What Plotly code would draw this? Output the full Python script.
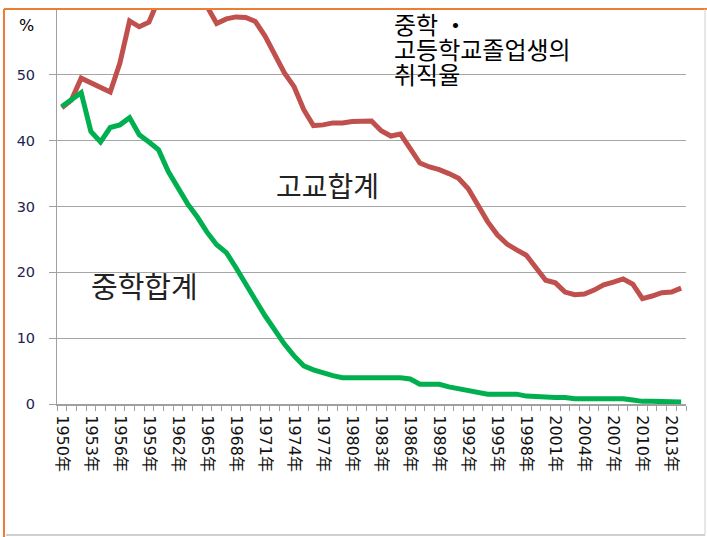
import plotly.graph_objects as go

years = list(range(1950, 2015))

high_school = [
    45.0, 46.2, 49.5, 48.8, 48.2, 47.4, 51.8, 58.2, 57.3, 58.0,
    61.5, 63.0, 64.0, 64.0, 63.0, 60.5, 57.8, 58.5, 58.8, 58.7,
    58.1, 55.9, 53.0, 50.3, 48.2, 44.7, 42.3, 42.4, 42.7, 42.7,
    42.9, 42.9, 43.0, 41.5, 40.7, 41.0, 38.9, 36.6, 36.0, 35.6,
    35.0, 34.3, 32.7, 30.2, 27.7, 25.7, 24.3, 23.4, 22.6, 20.7,
    18.8, 18.4, 17.0, 16.6, 16.7, 17.3, 18.1, 18.5, 19.0, 18.2,
    16.0, 16.4, 16.9, 17.0, 17.6,
]

middle_school = [
    45.2, 46.2, 47.3, 41.4, 39.8, 42.0, 42.4, 43.5, 40.9, 39.8,
    38.6, 35.3, 32.8, 30.4, 28.4, 26.1, 24.2, 23.0, 20.7, 18.4,
    15.8, 13.4, 11.2, 9.1, 7.3, 5.8, 5.2, 4.7, 4.3, 4.0,
    4.0, 4.0, 4.0, 4.0, 4.0, 4.0, 3.8, 3.0, 3.0, 3.0,
    2.6, 2.3, 2.0, 1.7, 1.5, 1.5, 1.5, 1.5, 1.2, 1.1,
    1.0, 1.0, 1.0, 0.8, 0.8, 0.8, 0.8, 0.8, 0.8, 0.6,
    0.4, 0.4, 0.4, 0.3, 0.3,
]

tick_years = years[::3]
tick_labels = [f"{y}年" for y in tick_years]
y_ticks = [0, 10, 20, 30, 40, 50]

series_names = ["고교합계", "중학합계"]
title_lines = ["중학 ・", "고등학교졸업생의", "취직율"]

W, H = 707, 537
L, R, T, B = 57, 21, 9, 133
pw = W - L - R
ph = H - T - B

def px(xp):
    return (xp - L) / pw

def py(yp):
    return (H - B - yp) / ph

fig = go.Figure()
fig.add_trace(go.Scatter(x=years, y=high_school, mode="lines",
                         line=dict(color="#C0504D", width=5), name=series_names[0],
                         showlegend=False))
fig.add_trace(go.Scatter(x=years, y=middle_school, mode="lines",
                         line=dict(color="#00B050", width=5), name=series_names[1],
                         showlegend=False))

font_lat = "DejaVu Sans, Noto Sans CJK JP, sans-serif"
font_kr = "Noto Sans CJK KR, sans-serif"

fig.update_layout(
    width=W, height=H,
    margin=dict(l=L, r=R, t=T, b=B, pad=0),
    paper_bgcolor="white", plot_bgcolor="white",
    xaxis=dict(
        range=[1949.5, 2014.5], tickmode="array", tickvals=tick_years,
        ticktext=tick_labels, tickangle=90, ticks="", ticklabelstandoff=6,
        tickfont=dict(family=font_lat, size=16, color="#111"),
        showgrid=False, showline=True, linecolor="#a0a0a0", linewidth=2,
        zeroline=False,
        minor=dict(ticks="outside", tick0=1949.5, dtick=1, ticklen=5,
                   tickcolor="#a0a0a0", tickwidth=1, showgrid=False),
    ),
    yaxis=dict(
        range=[0, 60], tickmode="array", tickvals=y_ticks,
        ticks="outside", ticklen=7, tickcolor="#a0a0a0", ticklabelstandoff=11,
        tickfont=dict(family=font_lat, size=14.5, color="#1c2450"),
        showgrid=True, gridcolor="#a6a6a6", gridwidth=1,
        showline=True, linecolor="#a0a0a0", linewidth=1, zeroline=False,
    ),
)

# title text lines
title_y = [24, 49, 73]
for txt, yy in zip(title_lines, title_y):
    fig.add_annotation(xref="paper", yref="paper", x=px(392), y=py(yy),
                       xanchor="left", yanchor="middle", text=txt, showarrow=False,
                       font=dict(family=font_kr, size=24, color="black"))

fig.add_annotation(xref="paper", yref="paper", x=px(274), y=py(185),
                   xanchor="left", yanchor="middle", text=series_names[0], showarrow=False,
                   font=dict(family=font_kr, size=28, color="#222"))
fig.add_annotation(xref="paper", yref="paper", x=px(89), y=py(285),
                   xanchor="left", yanchor="middle", text=series_names[1], showarrow=False,
                   font=dict(family=font_kr, size=29, color="#222"))
fig.add_annotation(xref="paper", yref="paper", x=px(27), y=py(25),
                   xanchor="center", yanchor="middle", text="%", showarrow=False,
                   font=dict(family=font_lat, size=16, color="black"))

# frame lines
fig.add_shape(type="line", xref="paper", yref="paper", x0=px(4), x1=px(707), y0=py(9), y1=py(9),
              line=dict(color="#ED7D31", width=2))
fig.add_shape(type="line", xref="paper", yref="paper", x0=px(4), x1=px(4), y0=py(9), y1=py(537),
              line=dict(color="#ED7D31", width=2))
fig.add_shape(type="line", xref="paper", yref="paper", x0=px(6), x1=px(705), y0=py(535), y1=py(535),
              line=dict(color="#a0a0a0", width=1))
fig.add_shape(type="line", xref="paper", yref="paper", x0=px(705), x1=px(705), y0=py(9), y1=py(535),
              line=dict(color="#d0d0d0", width=1))

fig.write_html("out.html", config={"displayModeBar": False},
               post_script="document.body.style.margin='0';document.body.style.padding='0';")
